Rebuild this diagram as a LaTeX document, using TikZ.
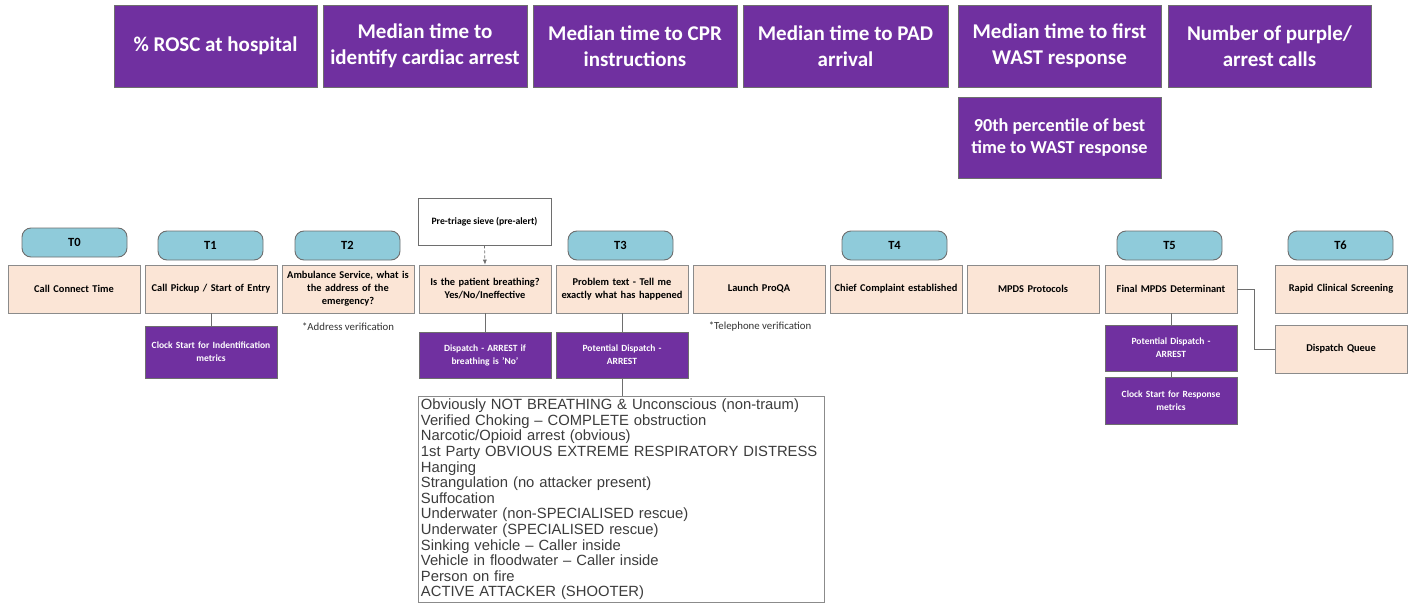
\documentclass[tikz,border=0pt]{standalone}
\usepackage{fontspec}
\setmainfont{Carlito}
\newfontfamily\listfont{Liberation Sans}
\usetikzlibrary{arrows.meta}
\definecolor{kpi}{HTML}{7030A0}
\definecolor{stepfill}{HTML}{FBE5D6}
\definecolor{pill}{HTML}{8FCBDA}
\definecolor{edge}{HTML}{6E6E6E}
\definecolor{listtext}{HTML}{3C3C3C}
\tikzset{
  kpibox/.style={draw=edge, line width=0.8pt, fill=kpi, text=white, align=center,
    font=\bfseries\fontsize{21}{26}\selectfont, inner sep=2pt},
  tpill/.style={draw=edge, line width=0.9pt, fill=pill, rounded corners=9pt,
    minimum width=105pt, minimum height=29pt, font=\bfseries\fontsize{12.5}{14}\selectfont},
  stepbox/.style={draw=edge!80, line width=0.7pt, fill=stepfill, align=center,
    minimum width=132pt, minimum height=48pt, text width=130pt, inner sep=1pt,
    font=\bfseries\fontsize{10.4}{13}\selectfont},
  sievebox/.style={draw=edge, line width=0.7pt, fill=white, align=center,
    minimum width=133pt, minimum height=47pt, font=\bfseries\fontsize{9.7}{12}\selectfont},
  actbox/.style={draw=edge, line width=0.7pt, fill=kpi, text=white, align=center,
    minimum width=132pt, text width=128pt, inner sep=1pt,
    font=\bfseries\fontsize{9.5}{13}\selectfont},
  note/.style={font=\fontsize{10.8}{12}\selectfont, text=black!80},
  link/.style={draw=edge, line width=0.7pt},
}
\begin{document}
\begin{tikzpicture}[x=1pt, y=-1pt]
\useasboundingbox (0,0) rectangle (1415,604);

% indicator boxes
\node[kpibox, minimum width=203pt, minimum height=82pt] (k1) at (215.5,46) {\% ROSC at hospital};
\node[kpibox, minimum width=204pt, minimum height=82pt] (k2) at (425,46) {Median time to\\identify cardiac arrest};
\node[kpibox, minimum width=204pt, minimum height=82pt] (k3) at (635,46) {Median time to CPR\\instructions};
\node[kpibox, minimum width=205pt, minimum height=82pt] (k4) at (845.5,46) {Median time to PAD\\arrival};
\node[kpibox, minimum width=203pt, minimum height=82pt] (k5) at (1059.5,46) {Median time to first\\WAST response};
\node[kpibox, minimum width=203pt, minimum height=82pt] (k6) at (1269.5,46) {Number of purple/\\arrest calls};
\node[kpibox, minimum width=203pt, minimum height=81pt, font=\bfseries\fontsize{18.3}{22.5}\selectfont]
  (k7) at (1059.5,137.5) {90th percentile of best\\time to WAST response};

% time stamps
\node[tpill] (t0) at (74.5,242.5) {T0};
\node[tpill] (t1) at (210.5,245.5) {T1};
\node[tpill] (t2) at (347.5,245.5) {T2};
\node[tpill] (t3) at (620.5,245.5) {T3};
\node[tpill] (t4) at (894.5,245.5) {T4};
\node[tpill] (t5) at (1169.5,245.5) {T5};
\node[tpill] (t6) at (1340.5,245.5) {T6};

% call steps
\node[stepbox] (s0) at (74,289) {Call Connect Time};
\node[stepbox] (s1) at (211,289) {Call Pickup / Start of Entry};
\node[stepbox] (s2) at (348,289) {Ambulance Service, what is\\the address of the\\emergency?};
\node[stepbox] (s3) at (485,289) {Is the patient breathing?\\Yes/No/Ineffective};
\node[stepbox] (s4) at (622,289) {Problem text - Tell me\\exactly what has happened};
\node[stepbox] (s5) at (759,289) {Launch ProQA};
\node[stepbox] (s6) at (896,289) {Chief Complaint established};
\node[stepbox] (s7) at (1033,289) {MPDS Protocols};
\node[stepbox] (s8) at (1171,289) {Final MPDS Determinant};
\node[stepbox] (s9) at (1341,289) {Rapid Clinical Screening};
\node[stepbox] (dq) at (1341,349) {Dispatch Queue};

\node[sievebox] (sieve) at (484.5,221.5) {Pre-triage sieve (pre-alert)};

\node[note] (n1) at (348,327) {*Address verification};
\node[note] (n2) at (760,327) {*Telephone verification};

% actions
\node[actbox, minimum height=52pt] (a1) at (211,352) {Clock Start for Indentification\\metrics};
\node[actbox, minimum height=46pt] (a2) at (485,355) {Dispatch - ARREST if\\breathing is 'No'};
\node[actbox, minimum height=46pt] (a3) at (622,355) {Potential Dispatch -\\ARREST};
\node[actbox, minimum height=46pt] (a4) at (1171,348) {Potential Dispatch -\\ARREST};
\node[actbox, minimum height=47pt] (a5) at (1171,400.5) {Clock Start for Response\\metrics};

% arrest determinants
\node[draw=edge!80, line width=0.9pt, fill=white, anchor=north west, inner xsep=2.5pt, inner ysep=1pt,
  text width=401pt, minimum height=206pt, align=left, text=listtext,
  font=\listfont\fontsize{14.8}{15.6}\selectfont] (lst) at (418,396) {%
Obviously NOT BREATHING \& Unconscious (non-traum)\\
Verified Choking – COMPLETE obstruction\\
Narcotic/Opioid arrest (obvious)\\
1st Party OBVIOUS EXTREME RESPIRATORY DISTRESS\\
Hanging\\
Strangulation (no attacker present)\\
Suffocation\\
Underwater (non-SPECIALISED rescue)\\
Underwater (SPECIALISED rescue)\\
Sinking vehicle – Caller inside\\
Vehicle in floodwater – Caller inside\\
Person on fire\\
ACTIVE ATTACKER (SHOOTER)};

% connectors
\draw[link] (s1.south) -- (a1.north);
\draw[link] (s3.south) -- (a2.north);
\draw[link] (s4.south) -- (a3.north);
\draw[link] (a3.south) -- (a3.south |- lst.north);
\draw[link] (s8.south) -- (a4.north);
\draw[link] (a4.south) -- (a5.north);
\draw[link] (s8.east) -- ++(17,0) |- (dq.west);
\draw[link, densely dashed, -{Latex[length=5pt,width=4pt]}] (sieve.south) -- (s3.north);
\end{tikzpicture}
\end{document}
